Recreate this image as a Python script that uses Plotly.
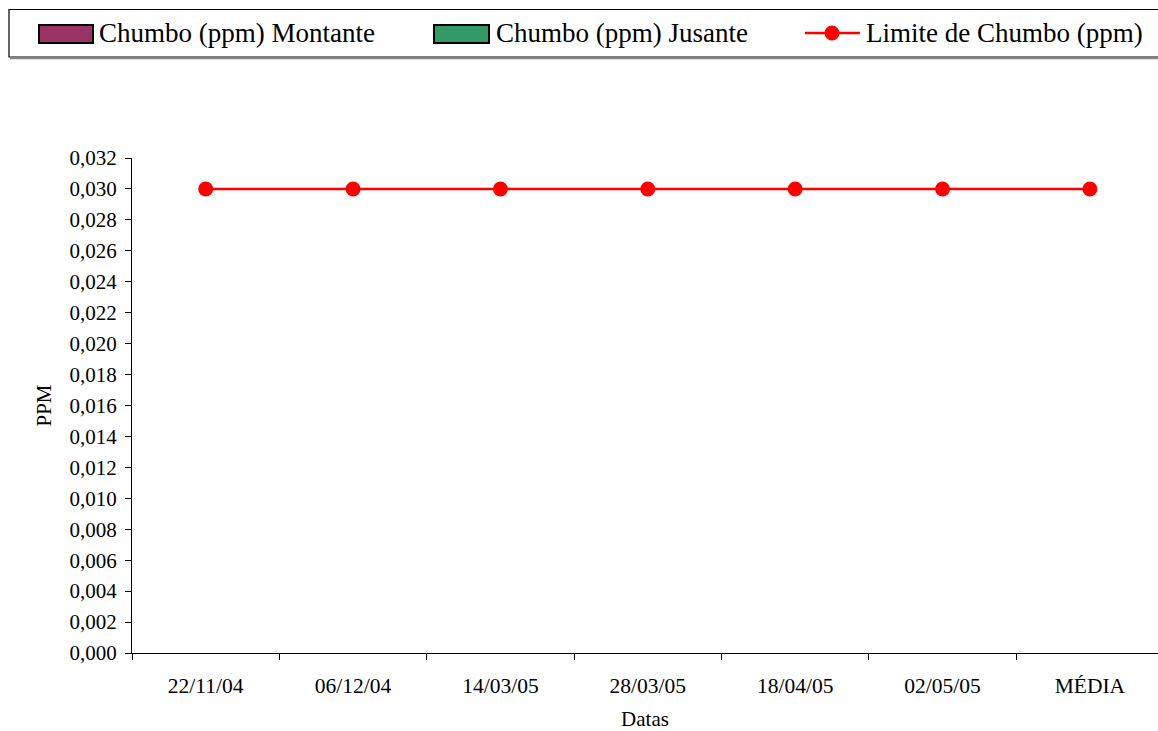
import plotly.graph_objects as go

# Sampling dates and values
datas = ["22/11/04", "06/12/04", "14/03/05", "28/03/05", "18/04/05", "02/05/05", "MÉDIA"]
chumbo_montante = [None, None, None, None, None, None, None]
chumbo_jusante = [None, None, None, None, None, None, None]
limite_chumbo = [0.030, 0.030, 0.030, 0.030, 0.030, 0.030, 0.030]

serie_nomes = ["Chumbo (ppm) Montante", "Chumbo (ppm) Jusante", "Limite de Chumbo (ppm)"]
cor_montante = "#993366"
cor_jusante = "#339966"
cor_limite = "#ff0000"

W, H = 1158, 731
ML, MR, MT, MB = 132, 0, 158, 78
PW, PH = W - ML - MR, H - MT - MB
FONTE = '"Liberation Serif", "Times New Roman", serif'


def px(x):
    return (x - ML) / PW


def py(y):
    return (H - MB - y) / PH


fig = go.Figure()
fig.add_trace(go.Bar(x=datas, y=chumbo_montante, name=serie_nomes[0],
                     marker=dict(color=cor_montante, line=dict(color="black", width=1.5)),
                     showlegend=False))
fig.add_trace(go.Bar(x=datas, y=chumbo_jusante, name=serie_nomes[1],
                     marker=dict(color=cor_jusante, line=dict(color="black", width=1.5)),
                     showlegend=False))
fig.add_trace(go.Scatter(x=datas, y=limite_chumbo, name=serie_nomes[2], mode="lines+markers",
                         line=dict(color=cor_limite, width=2.5),
                         marker=dict(color=cor_limite, size=15),
                         showlegend=False, cliponaxis=False))

shapes = []
annotations = []

# Legend frame with a soft bottom shadow
shapes.append(dict(type="rect", xref="paper", yref="paper",
                   x0=px(9), x1=px(1170), y0=py(57), y1=py(9.5),
                   line=dict(color="black", width=1.2), fillcolor="white", layer="above"))
shapes.append(dict(type="line", xref="paper", yref="paper",
                   x0=px(10), x1=px(1170), y0=py(58.5), y1=py(58.5),
                   line=dict(color="#888888", width=1.5), layer="above"))

# Bar legend swatches
for (x0, x1, cor, tx, nome) in [(39, 93, cor_montante, 97, serie_nomes[0]),
                                 (434, 489, cor_jusante, 494, serie_nomes[1])]:
    shapes.append(dict(type="rect", xref="paper", yref="paper",
                       x0=px(x0), x1=px(x1), y0=py(43), y1=py(25),
                       line=dict(color="black", width=2), fillcolor=cor, layer="above"))
    annotations.append(dict(x=px(tx), y=py(33), xref="paper", yref="paper", text=nome,
                            showarrow=False, xanchor="left", yanchor="middle",
                            font=dict(family=FONTE, size=27, color="black")))

# Line legend swatch
shapes.append(dict(type="line", xref="paper", yref="paper",
                   x0=px(805), x1=px(860), y0=py(33), y1=py(33),
                   line=dict(color=cor_limite, width=2.5), layer="above"))
shapes.append(dict(type="circle", xref="paper", yref="paper",
                   x0=px(832 - 7.5), x1=px(832 + 7.5), y0=py(33 + 7.5), y1=py(33 - 7.5),
                   line=dict(color=cor_limite, width=0), fillcolor=cor_limite, layer="above"))
annotations.append(dict(x=px(864), y=py(33), xref="paper", yref="paper", text=serie_nomes[2],
                        showarrow=False, xanchor="left", yanchor="middle",
                        font=dict(family=FONTE, size=27, color="black")))

fig.update_layout(
    width=W, height=H,
    margin=dict(l=ML, r=MR, t=MT, b=MB, pad=0),
    paper_bgcolor="white", plot_bgcolor="white",
    font=dict(family=FONTE, size=21, color="black"),
    separators=",.",
    barmode="group",
    shapes=shapes,
    annotations=annotations,
    xaxis=dict(
        type="category", range=[-0.5, 6.462],
        tickson="boundaries", ticks="outside", ticklen=6, tickcolor="black", tickwidth=1,
        showline=True, linecolor="black", linewidth=1.3,
        showgrid=False, zeroline=False,
        tickfont=dict(size=21.5), ticklabelstandoff=13,
        title=dict(text="Datas", font=dict(size=21), standoff=19),
    ),
    yaxis=dict(
        range=[0, 0.032], tickmode="linear", tick0=0, dtick=0.002, tickformat=".3f",
        ticks="outside", ticklen=6, tickcolor="black", tickwidth=1,
        showline=True, linecolor="black", linewidth=1.3,
        showgrid=False, zeroline=False,
        tickfont=dict(size=21), ticklabelstandoff=4,
        title=dict(text="PPM", font=dict(size=21), standoff=12),
    ),
)

fig.write_html("out.html")
